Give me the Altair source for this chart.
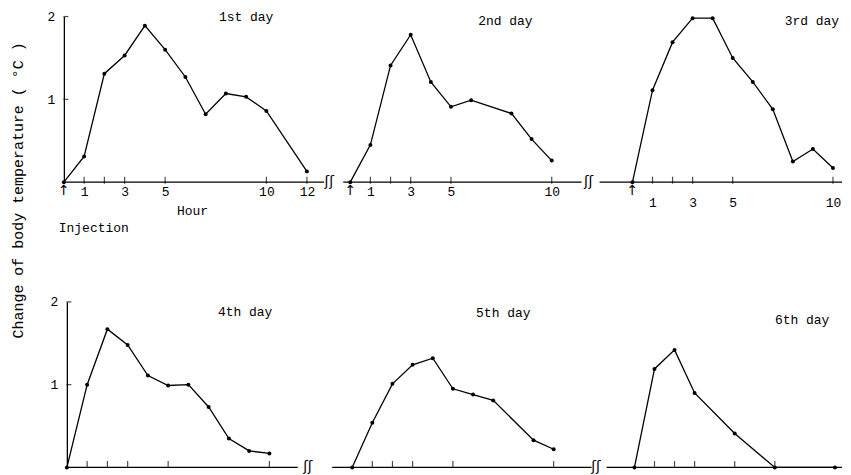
import altair as alt
import pandas as pd

# ---------------- data ----------------
day1_hours = [0, 1, 2, 3, 4, 5, 6, 7, 8, 9, 10, 12]
day1_temp = [0, 0.31, 1.31, 1.53, 1.89, 1.60, 1.27, 0.82, 1.07, 1.03, 0.86, 0.13]
day2_hours = [0, 1, 2, 3, 4, 5, 6, 8, 9, 10]
day2_temp = [0, 0.45, 1.41, 1.78, 1.21, 0.91, 0.99, 0.83, 0.52, 0.26]
day3_hours = [0, 1, 2, 3, 4, 5, 6, 7, 8, 9, 10]
day3_temp = [0, 1.11, 1.69, 1.98, 1.98, 1.50, 1.21, 0.88, 0.25, 0.40, 0.17]
day4_hours = [0, 1, 2, 3, 4, 5, 6, 7, 8, 9, 10]
day4_temp = [0, 1.00, 1.67, 1.48, 1.11, 0.99, 1.00, 0.73, 0.35, 0.20, 0.17]
day5_hours = [0, 1, 2, 3, 4, 5, 6, 7, 9, 10]
day5_temp = [0, 0.54, 1.01, 1.24, 1.32, 0.95, 0.88, 0.81, 0.33, 0.22]
day6_hours = [0, 1, 2, 3, 5, 7, 10]
day6_temp = [0, 1.19, 1.42, 0.90, 0.41, 0, 0]

day_titles = ["1st day", "2nd day", "3rd day", "4th day", "5th day", "6th day"]
tick_hours = [[1, 2, 3, 5, 10, 12], [1, 2, 3, 5, 10], [1, 2, 3, 5, 10],
              [1, 2, 3, 5, 10], [1, 2, 3, 5, 10], [1, 2, 3, 5, 7]]
label_hours = [[1, 3, 5, 10, 12], [1, 3, 5, 10], [1, 3, 5, 10], [], [], []]
y_tick_values = [1, 2]

y_title = "Change of body temperature ( °C )"
x_title = "Hour"
injection_label = "Injection"

hours = [day1_hours, day2_hours, day3_hours, day4_hours, day5_hours, day6_hours]
temps = [day1_temp, day2_temp, day3_temp, day4_temp, day5_temp, day6_temp]

# ---------------- layout / style ----------------
FONT = "Liberation Mono"
SYM_FONT = "DejaVu Sans"
PLOT_H = 166
widths = [270, 248, 242, 259, 265, 236]
x_domains = [[0, 13.3], [-0.35, 11.93], [-1.59, 10.45],
             [-0.15, 12.61], [-0.99, 12.13], [-1.39, 10.35]]
axis_spans = [[0, 12.85], [-0.35, 11.48], [-1.64, 10.45],
              [0, 11.4], [-0.99, 11.88], [-1.39, 10.35]]
break_pos = [13.1, 11.83, None, 11.9, 12.1, None]
show_arrow = [True, True, True, False, False, False]
title_pos = [(9.0, 2.0), (7.7, 1.94), (8.95, 1.94), (8.8, 1.88), (7.5, 1.86), (8.36, 1.78)]
label_pad = [3, 3, 14, 3, 3, 3]
tick_offset = [-2, -2, -2, -3, -3, -3]
hour_pos = (6.35, -0.35)
injection_pos = (-0.25, -0.55)
ytitle_pos = (-2.27, -0.1)


def enc(i):
    xs = alt.Scale(domain=x_domains[i], nice=False, zero=False)
    ys = alt.Scale(domain=[0, 2], nice=False, zero=False)
    if label_hours[i]:
        xaxis = alt.Axis(values=label_hours[i], domain=False, ticks=False, grid=False,
                         labelPadding=label_pad[i], labelFont=FONT, labelFontSize=13,
                         labelColor="black", labelFlush=False, labelOverlap=False,
                         title="")
    else:
        xaxis = alt.Axis(labels=False, domain=False, ticks=False, grid=False, title="")
    x = alt.X("hour:Q", scale=xs, axis=xaxis)
    if i in (0, 3):
        kw = dict(values=y_tick_values, ticks=False, grid=False, domain=True,
                  domainColor="black", domainWidth=1.3, labelPadding=9,
                  labelFont=FONT, labelFontSize=13, labelColor="black", title="")
        if i == 3:
            kw["offset"] = -3
        y = alt.Y("temp:Q", scale=ys, axis=alt.Axis(**kw))
    else:
        y = alt.Y("temp:Q", scale=ys, axis=None)
    return x, y


def text_layer(x, y, hx, ty, txt, **mk):
    d = pd.DataFrame({"hour": [hx], "temp": [ty], "t": [txt]})
    return alt.Chart(d).mark_text(color="black", **mk).encode(x=x, y=y, text="t:N")


def panel(i):
    x, y = enc(i)
    df = pd.DataFrame({"hour": hours[i], "temp": temps[i]})
    layers = []
    span = pd.DataFrame({"hour": [axis_spans[i][0]], "hour2": [axis_spans[i][1]], "temp": [0]})
    layers.append(alt.Chart(span).mark_rule(color="black", strokeWidth=1.3).encode(
        x=x, x2="hour2:Q", y=y))
    ticks = pd.DataFrame({"hour": tick_hours[i], "temp": [0] * len(tick_hours[i])})
    layers.append(alt.Chart(ticks).mark_tick(orient="vertical", size=7, thickness=1.2,
                                             color="black", yOffset=tick_offset[i]).encode(x=x, y=y))
    if i in (0, 3):
        yt = pd.DataFrame({"hour": [0] * len(y_tick_values), "temp": y_tick_values})
        layers.append(alt.Chart(yt).mark_tick(orient="horizontal", size=5, thickness=1.2,
                                              color="black", xOffset=2).encode(x=x, y=y))
    layers.append(alt.Chart(df).mark_line(color="black", strokeWidth=1.3).encode(x=x, y=y))
    layers.append(alt.Chart(df).mark_circle(color="black", size=16, opacity=1).encode(x=x, y=y))
    if show_arrow[i]:
        layers.append(text_layer(x, y, 0, 0, "↑", font=SYM_FONT, fontSize=14,
                                 baseline="top", dy=2))
    if break_pos[i] is not None:
        layers.append(text_layer(x, y, break_pos[i], 0, "ʃʃ", font=SYM_FONT, fontSize=14,
                                 baseline="middle"))
    layers.append(text_layer(x, y, title_pos[i][0], title_pos[i][1], day_titles[i],
                             font=FONT, fontSize=13, baseline="middle"))
    if i == 0:
        layers.append(text_layer(x, y, hour_pos[0], hour_pos[1], x_title,
                                 font=FONT, fontSize=13, baseline="middle"))
        layers.append(text_layer(x, y, injection_pos[0], injection_pos[1], injection_label,
                                 font=FONT, fontSize=13, align="left", baseline="middle"))
        layers.append(text_layer(x, y, ytitle_pos[0], ytitle_pos[1], y_title,
                                 font=FONT, fontSize=15, angle=270, align="center",
                                 baseline="middle"))
    return alt.layer(*layers).properties(width=widths[i], height=PLOT_H)


row1 = alt.hconcat(panel(0), panel(1), panel(2), spacing=10, bounds="flush")
row2 = alt.hconcat(panel(3), panel(4), panel(5), spacing=10, bounds="flush")
chart = alt.vconcat(row1, row2, spacing=286, bounds="flush").properties(
    padding={"left": 2, "top": 2, "right": 0, "bottom": 0},
    background="white",
).configure_view(strokeWidth=0)

chart.save("out.html", embed_options={"renderer": "svg", "actions": False})
